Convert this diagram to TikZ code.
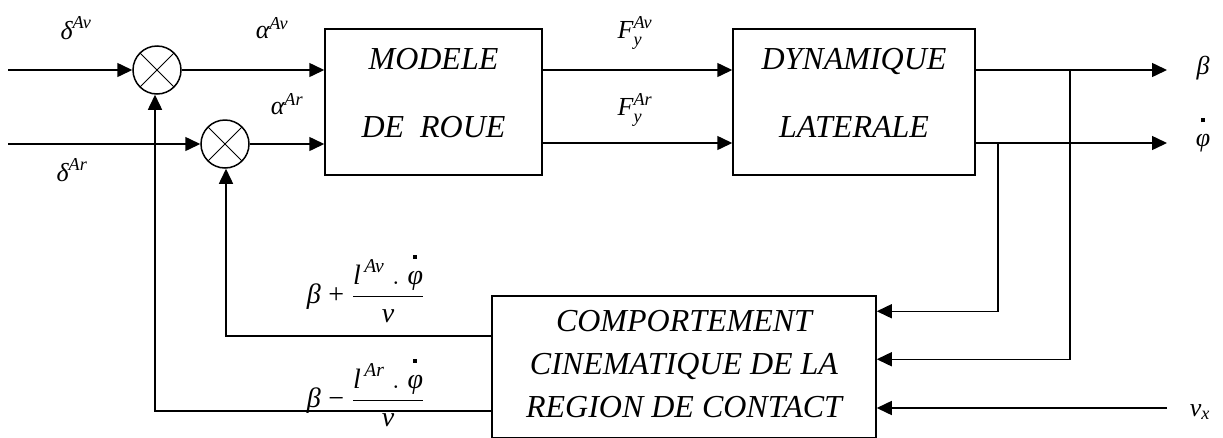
\documentclass[tikz,border=0pt]{standalone}
\usepackage{fix-cm}
\usepackage{amsmath}
\usepackage{fontspec}
\setmainfont{Liberation Serif}
\usetikzlibrary{arrows.meta}

% italic Liberation Serif symbol inside math
\newcommand{\iv}[1]{\textit{#1}}
% phi with a square dot set well above it
\newcommand{\phidot}{\overset{\rule[7pt]{4pt}{4pt}}{\iv{φ}}}
% invisible depth that lifts the lines of a block label
\newcommand{\lift}[1]{\rule[-#1]{0pt}{#1}}

\begin{document}
\begin{tikzpicture}[x=1pt,y=-1pt,line width=1.5pt,
  arr/.style={-{Triangle[length=15pt,width=14pt]}},
  blk/.style={draw,inner sep=0pt,align=center,
    font=\fontsize{32}{68}\selectfont\itshape},
  sumnode/.style={draw,circle,minimum size=48pt,inner sep=0pt,
    path picture={\draw[line width=1pt]
      (path picture bounding box.north west) -- (path picture bounding box.south east)
      (path picture bounding box.north east) -- (path picture bounding box.south west);}},
  lbl/.style={inner sep=0pt,font=\fontsize{26}{30}\selectfont},
  fbl/.style={inner sep=0pt,anchor=base west,font=\fontsize{28}{30}\selectfont}
]
\useasboundingbox (0,0) rectangle (1223,437);
\clip (0,0) rectangle (1223,437);

% blocks
\node[blk,minimum width=217pt,minimum height=146pt] (m) at (433.5,102)
  {MODELE\\DE~~ROUE\lift{19pt}};
\node[blk,minimum width=242pt,minimum height=146pt] (d) at (854,102)
  {DYNAMIQUE\\LATERALE\lift{19pt}};
\node[blk,minimum width=384pt,minimum height=142pt,
  font=\fontsize{32}{43}\selectfont\itshape] (c) at (684,367)
  {COMPORTEMENT\\CINEMATIQUE DE LA\\REGION DE CONTACT\lift{6pt}};

% summing junctions
\node[sumnode] (s1) at (157,70) {};
\node[sumnode] (s2) at (225,144) {};

% free ends and branch points
\coordinate (in1) at (8,70);
\coordinate (in2) at (8,144);
\coordinate (out1) at (1167,70);
\coordinate (out2) at (1167,143);
\coordinate (j1) at (1070,70);
\coordinate (j2) at (998,143);
\coordinate (vin) at (1167,408);
\coordinate (f1) at (226,336);
\coordinate (f2) at (155,411);

% forward path
\draw[arr] (in1) -- (s1.west);
\draw[arr] (in2) -- (s2.west);
\draw[arr] (s1.east) -- (s1.east -| m.west);
\draw[arr] (s2.east) -- (s2.east -| m.west);
\draw[arr] (m.east |- out1) -- (d.west |- out1);
\draw[arr] (m.east |- out2) -- (d.west |- out2);
\draw[arr] (d.east |- out1) -- (out1);
\draw[arr] (d.east |- out2) -- (out2);

% measurements into the contact block
\draw[arr] (j2) |- ([yshift=-16pt]c.north east);
\draw[arr] (j1) |- ([yshift=-64pt]c.north east);
\draw[arr] (vin) -- (c.east |- vin);

% feedback to the junctions
\draw[arr] (c.west |- f1) -- (f1) -- (s2.south -| f1);
\draw[arr] (c.west |- f2) -- (f2) -- (s1.south -| f2);

% signal labels
\node[lbl] (ldav) at (76,28) {$\iv{δ}^{\iv{Av}}$};
\node[lbl] (ldar) at (72,170) {$\iv{δ}^{\iv{Ar}}$};
\node[lbl] (laav) at (272,28) {$\iv{α}^{\iv{Av}}$};
\node[lbl] (laar) at (287,104) {$\iv{α}^{\iv{Ar}}$};
\node[lbl] (lfav) at (635,33) {$\iv{F}_{\iv{y}}^{\iv{Av}}$};
\node[lbl] (lfar) at (635,110) {$\iv{F}_{\iv{y}}^{\iv{Ar}}$};
\node[lbl] (lb) at (1203,68) {$\iv{β}$};
\node[lbl] (lp) at (1203,134) {$\phidot$};
\node[lbl] (lv) at (1200,412) {$\iv{v}_{\iv{x}}$};
\node[fbl] (lf1) at (306,303)
  {$\iv{β}\;\text{+}\;\dfrac{\iv{l}^{\,\iv{Av}}\;.\;\phidot}{\iv{v}}$};
\node[fbl] (lf2) at (306,407)
  {$\iv{β}\;\text{−}\;\dfrac{\iv{l}^{\,\iv{Ar}}\;.\;\phidot}{\iv{v}}$};
\end{tikzpicture}
\end{document}
